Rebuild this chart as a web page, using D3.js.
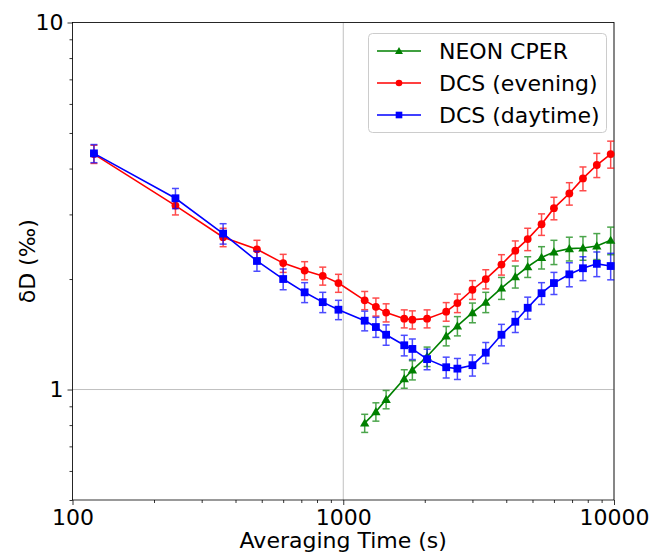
<!DOCTYPE html>
<html>
<head>
<meta charset="utf-8">
<script src="https://cdn.jsdelivr.net/npm/d3@7"></script>
<style>
  html, body { margin: 0; padding: 0; background: #fff; }
  svg { display: block; font-family: "DejaVu Sans", sans-serif; }
</style>
</head>
<body>
<svg id="chart" width="649" height="552"></svg>
<script>
// ---- data ----
const tauAll = [120, 240, 360, 480, 600, 720, 840, 960, 1200, 1320, 1440, 1680, 1800, 2040, 2400, 2640, 3000, 3360, 3840, 4320, 4800, 5400, 6000, 6840, 7680, 8640, 9720];
const evening = [4.38, 3.17, 2.60, 2.41, 2.21, 2.11, 2.04, 1.95, 1.75, 1.68, 1.62, 1.56, 1.55, 1.56, 1.63, 1.72, 1.87, 2.00, 2.19, 2.39, 2.57, 2.82, 3.12, 3.42, 3.76, 4.09, 4.38];
const eveningErr = [0.25, 0.18, 0.15, 0.14, 0.125, 0.12, 0.115, 0.11, 0.10, 0.095, 0.092, 0.088, 0.088, 0.088, 0.095, 0.10, 0.11, 0.12, 0.14, 0.15, 0.18, 0.19, 0.22, 0.24, 0.28, 0.31, 0.37];
const daytime = [4.40, 3.32, 2.66, 2.24, 2.00, 1.84, 1.73, 1.65, 1.54, 1.48, 1.41, 1.32, 1.29, 1.21, 1.15, 1.14, 1.165, 1.26, 1.41, 1.53, 1.67, 1.83, 1.95, 2.06, 2.14, 2.20, 2.17];
const daytimeErr = [0.25, 0.21, 0.17, 0.14, 0.13, 0.115, 0.11, 0.10, 0.095, 0.093, 0.09, 0.085, 0.083, 0.078, 0.075, 0.075, 0.077, 0.083, 0.095, 0.10, 0.115, 0.125, 0.135, 0.155, 0.16, 0.17, 0.18];
const tauNeon = [1200, 1320, 1440, 1680, 1800, 2040, 2400, 2640, 3000, 3360, 3840, 4320, 4800, 5400, 6000, 6840, 7680, 8640, 9720];
const neon = [0.81, 0.87, 0.94, 1.07, 1.13, 1.23, 1.40, 1.49, 1.62, 1.73, 1.89, 2.03, 2.16, 2.29, 2.37, 2.42, 2.43, 2.46, 2.55];
const neonErr = [0.046, 0.05, 0.054, 0.062, 0.068, 0.075, 0.085, 0.09, 0.10, 0.11, 0.13, 0.14, 0.14, 0.16, 0.18, 0.18, 0.18, 0.20, 0.22];
const seriesNames = ["NEON CPER", "DCS (evening)", "DCS (daytime)"];
const xTickLabels = ["100", "1000", "10000"];
const yTickLabels = ["1", "10"];
const xTickValues = [100, 1000, 10000];
const yTickValues = [1, 10];

// ---- layout ----
const svg = d3.select("#chart");
const L = 72.5, R = 614, T = 22.5, B = 500;
const FS = 22;
const x = d3.scaleLog().domain([100, 10000]).range([L, R]);
const y = d3.scaleLog().domain([0.5, 10]).range([B, T]);

const series = [
  { name: seriesNames[0], tau: tauNeon, v: neon, e: neonErr, color: "#008000", marker: "tri" },
  { name: seriesNames[1], tau: tauAll, v: evening, e: eveningErr, color: "#ff0000", marker: "circle" },
  { name: seriesNames[2], tau: tauAll, v: daytime, e: daytimeErr, color: "#0000ff", marker: "square" }
];

// grid (major only)
const grid = svg.append("g");
xTickValues.forEach(t => grid.append("line").attr("x1", x(t)).attr("x2", x(t)).attr("y1", T).attr("y2", B)
  .attr("stroke", "#b0b0b0").attr("stroke-width", 0.8));
yTickValues.forEach(t => grid.append("line").attr("x1", L).attr("x2", R).attr("y1", y(t)).attr("y2", y(t))
  .attr("stroke", "#b0b0b0").attr("stroke-width", 0.8));

// axes
const xMinor = [200,300,400,500,600,700,800,900,2000,3000,4000,5000,6000,7000,8000,9000];
const yMinor = [0.5,0.6,0.7,0.8,0.9,2,3,4,5,6,7,8,9];
const xAxis = d3.axisBottom(x).tickValues(xTickValues).tickFormat((d, i) => xTickLabels[i]).tickSize(5).tickPadding(3);
const yAxis = d3.axisLeft(y).tickValues(yTickValues).tickFormat((d, i) => yTickLabels[i]).tickSize(5).tickPadding(4);
const gx = svg.append("g").attr("transform", `translate(0,${B})`).call(xAxis);
const gy = svg.append("g").attr("transform", `translate(${L},0)`).call(yAxis);
svg.append("g").attr("transform", `translate(0,${B})`).call(d3.axisBottom(x).tickValues(xMinor).tickFormat("").tickSize(3))
  .call(g => g.select(".domain").remove());
svg.append("g").attr("transform", `translate(${L},0)`).call(d3.axisLeft(y).tickValues(yMinor).tickFormat("").tickSize(3))
  .call(g => g.select(".domain").remove());
svg.selectAll(".tick line").attr("stroke", "#000").attr("stroke-width", 0.8);
[gx, gy].forEach(g => { g.select(".domain").remove(); g.selectAll("text").attr("font-size", FS).attr("fill", "#000").attr("font-family", "DejaVu Sans"); });
gx.selectAll("text").attr("dy", "0.78em");

// frame
svg.append("rect").attr("x", L).attr("y", T).attr("width", R - L).attr("height", B - T)
  .attr("fill", "none").attr("stroke", "#000").attr("stroke-width", 0.8);

// axis labels
svg.append("text").attr("x", (L + R) / 2).attr("y", 548).attr("text-anchor", "middle")
  .attr("font-size", FS).text("Averaging Time (s)");
svg.append("text").attr("transform", `translate(35,${(T + B) / 2}) rotate(-90)`).attr("text-anchor", "middle")
  .attr("font-size", FS).text("δD (‰)");

// markers
function drawMarker(g, type, cx, cy, color, s) {
  if (type === "circle") g.append("circle").attr("cx", cx).attr("cy", cy).attr("r", s * 0.5).attr("fill", color);
  else if (type === "square") g.append("rect").attr("x", cx - s / 2).attr("y", cy - s / 2).attr("width", s).attr("height", s).attr("fill", color);
  else {
    const h = s * 0.55;
    g.append("path").attr("d", `M${cx},${cy - h} L${cx + h},${cy + h * 0.75} L${cx - h},${cy + h * 0.75} Z`).attr("fill", color);
  }
}
const sizes = { circle: 7.8, square: 7.8, tri: 8.5 };

const plot = svg.append("g");
series.forEach(s => {
  const g = plot.append("g");
  const pts = s.tau.map((t, i) => ({ t, v: s.v[i], e: s.e[i] }));
  // error bars
  const eg = g.append("g").attr("stroke", s.color).attr("stroke-width", 1.5).attr("opacity", 0.7);
  pts.forEach(p => {
    const cx = x(p.t), y1 = y(p.v + p.e), y2 = y(p.v - p.e);
    eg.append("line").attr("x1", cx).attr("x2", cx).attr("y1", y1).attr("y2", y2);
    eg.append("line").attr("x1", cx - 3.5).attr("x2", cx + 3.5).attr("y1", y1).attr("y2", y1);
    eg.append("line").attr("x1", cx - 3.5).attr("x2", cx + 3.5).attr("y1", y2).attr("y2", y2);
  });
  g.append("path").datum(pts).attr("fill", "none").attr("stroke", s.color).attr("stroke-width", 1.6)
    .attr("d", d3.line().x(d => x(d.t)).y(d => y(d.v)));
  pts.forEach(p => drawMarker(g, s.marker, x(p.t), y(p.v), s.color, sizes[s.marker]));
});

// legend
const lg = svg.append("g");
lg.append("rect").attr("x", 368.5).attr("y", 33.5).attr("width", 238).attr("height", 99).attr("rx", 4)
  .attr("fill", "#fff").attr("fill-opacity", 0.8).attr("stroke", "#cccccc").attr("stroke-width", 1);
series.forEach((s, i) => {
  const cy = 51 + i * 32;
  lg.append("line").attr("x1", 377).attr("x2", 421).attr("y1", cy).attr("y2", cy).attr("stroke", s.color).attr("stroke-width", 1.6);
  drawMarker(lg, s.marker, 399, cy, s.color, sizes[s.marker] * 0.85);
  lg.append("text").attr("x", 439).attr("y", cy).attr("dy", "0.36em").attr("font-size", FS).text(s.name);
});
</script>
</body>
</html>
